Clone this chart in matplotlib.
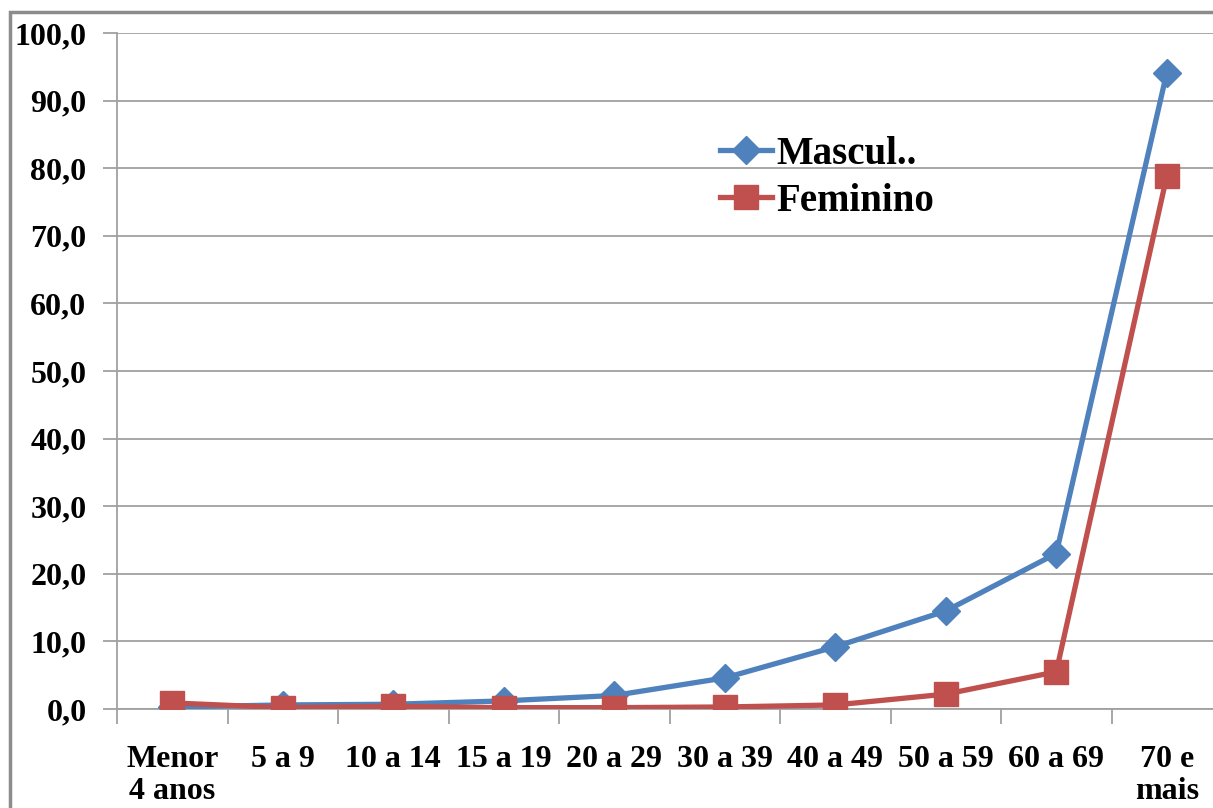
import matplotlib
matplotlib.use("Agg")
import matplotlib.pyplot as plt
import numpy as np
from matplotlib.patches import Rectangle
from matplotlib.lines import Line2D

categorias = ["Menor\n4 anos", "5 a 9", "10 a 14", "15 a 19", "20 a 29",
              "30 a 39", "40 a 49", "50 a 59", "60 a 69", "70 e\nmais"]
masculino = [0.3, 0.6, 0.7, 1.2, 2.0, 4.6, 9.2, 14.5, 23.0, 94.1]
feminino = [0.9, 0.2, 0.4, 0.2, 0.2, 0.3, 0.6, 2.2, 5.5, 78.8]
y_ticks = [0, 10, 20, 30, 40, 50, 60, 70, 80, 90, 100]

plt.rcParams['font.family'] = ['Liberation Serif', 'DejaVu Serif']
plt.rcParams['font.weight'] = 'bold'

fig = plt.figure(figsize=(12.13, 8.08), dpi=100)
ax = fig.add_axes([117 / 1213, 99 / 808, 1105 / 1213, 676 / 808])

x = np.arange(len(categorias))
azul = '#4F81BD'
vermelho = '#C0504D'

ax.plot(x, masculino, color=azul, lw=3.8, marker='D', markersize=14,
        solid_joinstyle='round', zorder=3)
ax.plot(x, feminino, color=vermelho, lw=3.8, marker='s', markersize=17,
        solid_joinstyle='round', zorder=4)

ax.set_xlim(-0.5, len(categorias) - 0.5)
ax.set_ylim(0, 100)
ax.set_yticks(y_ticks)
ax.set_yticklabels([f"{v:.1f}".replace('.', ',') for v in y_ticks])
ax.grid(axis='y', color='#A0A0A0', lw=1.3, zorder=1)
ax.set_axisbelow(True)

ax.set_xticks(np.arange(-0.5, len(categorias), 1.0))
ax.set_xticklabels([])
ax.set_xticks(x, minor=True)
ax.set_xticklabels(categorias, minor=True, fontsize=23, fontweight='bold', linespacing=1.15)
ax.tick_params(axis='x', which='minor', length=0, pad=26)
ax.tick_params(axis='x', which='major', length=11, width=1.3, color='#A0A0A0')
ax.tick_params(axis='y', length=10, width=1.3, color='#A0A0A0', labelsize=23, pad=12)

for s in ['top', 'right']:
    ax.spines[s].set_visible(False)
for s in ['left', 'bottom']:
    ax.spines[s].set_color('#A0A0A0')
    ax.spines[s].set_linewidth(1.3)

handles = [Line2D([], [], color=azul, lw=3.8, marker='D', markersize=14),
           Line2D([], [], color=vermelho, lw=3.8, marker='s', markersize=17)]
ax.legend(handles, ['Mascul..', 'Feminino'], loc='upper left',
          bbox_to_anchor=(704 / 1213, 1 - 120 / 808), bbox_transform=fig.transFigure,
          frameon=False, fontsize=28, handlelength=1.35, handletextpad=0.1,
          labelspacing=0.27, borderaxespad=0)

fig.patches.append(Rectangle((10 / 1213, -0.1), 1.2, 1.1 - 12 / 808, transform=fig.transFigure,
                             fill=False, edgecolor='#8C8C8C', lw=2.5, zorder=0))

fig.savefig('out.png', dpi=100)
